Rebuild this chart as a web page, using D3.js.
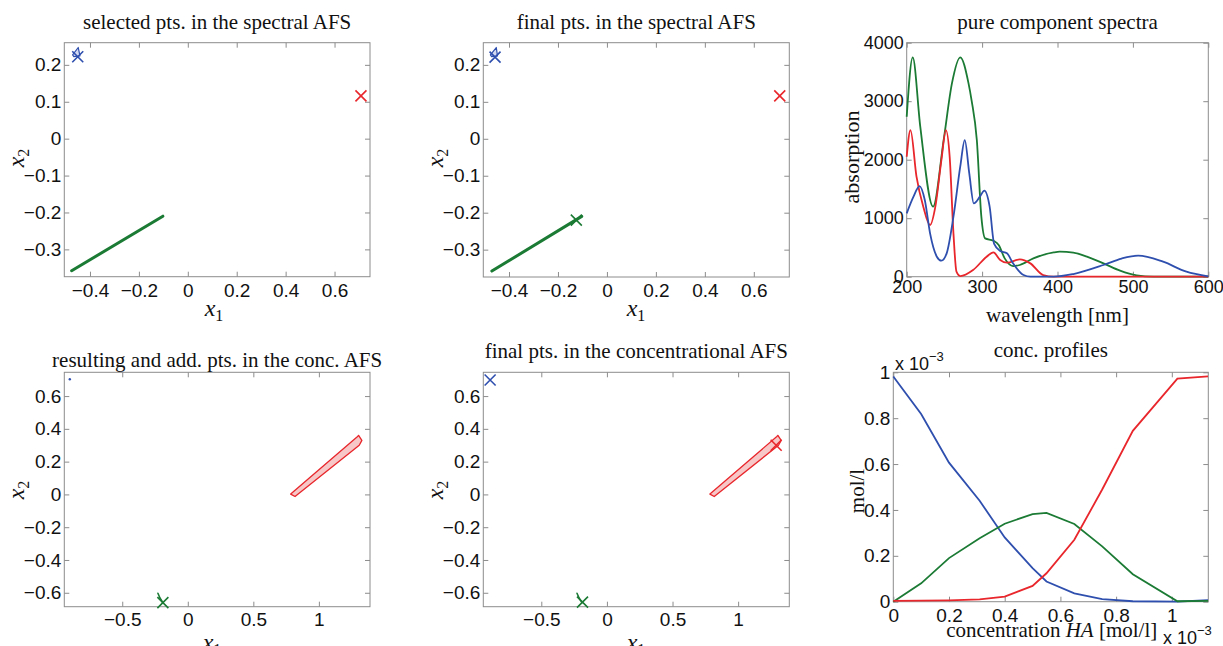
<!DOCTYPE html>
<html><head><meta charset="utf-8">
<script src="https://cdn.jsdelivr.net/npm/d3@7"></script>
<style>body{margin:0;background:#fff} svg{display:block;background:#fff}</style>
</head><body>
<svg id="c" width="1223" height="646"></svg>
<script>
// ---------------- DATA ----------------
// Panel 1: selected pts. in the spectral AFS
const p1GreenLineX = [-0.475, -0.102];
const p1GreenLineY = [-0.358, -0.210];
const p1BlueShapeX = [-0.471, -0.448, -0.441, -0.466];
const p1BlueShapeY = [0.227, 0.247, 0.224, 0.2225];
const p1MarkX = [-0.450, 0.708];
const p1MarkY = [0.222, 0.116];
const p1MarkC = ["blue", "red"];

// Panel 2: final pts. in the spectral AFS
const p2GreenLineX = [-0.470, -0.103];
const p2GreenLineY = [-0.358, -0.210];
const p2BlueShapeX = [-0.476, -0.452, -0.447, -0.471];
const p2BlueShapeY = [0.227, 0.247, 0.224, 0.2225];
const p2MarkX = [-0.457, 0.706, -0.125];
const p2MarkY = [0.221, 0.116, -0.220];
const p2MarkC = ["blue", "red", "green"];

// Panel 4: resulting and add. pts. in the conc. AFS
const concAfsRedPolyX = [0.785, 0.818, 1.308, 1.328, 1.303, 1.293];
const concAfsRedPolyY = [0.002, -0.013, 0.300, 0.330, 0.360, 0.352];
const concAfsGreenX = [-0.228, -0.212, -0.190];
const concAfsGreenY = [-0.603, -0.632, -0.660];
const p4BlueDot = [-0.90, 0.703];
const p4MarkX = [-0.190];
const p4MarkY = [-0.660];
const p4MarkC = ["green"];

// Panel 5: final pts. in the concentrational AFS
const p5MarkX = [-0.890, -0.186, 1.290];
const p5MarkY = [0.698, -0.657, 0.300];
const p5MarkC = ["blue", "green", "red"];

// Panel 3: pure component spectra
const specGreenNm  = [200,208,218,235,249,260,271,282,286,293,299,304,315,322,330,341,350,368,395,403,421,439,461,483,505,527,600];
const specGreenAbs = [2735,3750,2564,1197,2336,3305,3750,3305,3020,2336,1026,655,615,541,313,182,200,313,416,427,410,342,228,103,23,0,0];
const specRedNm  = [200,205,213,222,231,238,246,252,257,262,266,271,288,306,315,324,333,350,364,381,395,600];
const specRedAbs = [2051,2507,1709,1197,883,1197,1994,2507,2051,741,85,11,114,342,416,285,239,296,228,28,0,0];
const specBlueNm  = [200,209,217,224,231,240,246,253,262,271,277,283,289,297,303,310,316,324,333,341,355,364,395,421,461,485,507,540,571,600];
const specBlueAbs = [1083,1368,1550,1311,741,342,274,399,1026,1880,2336,1766,1254,1368,1470,1197,560,440,400,228,28,0,0,46,200,310,360,256,85,5];

// Panel 6: conc. profiles (x 10^-3)
const concHA    = [0, 0.10, 0.20, 0.31, 0.40, 0.50, 0.55, 0.65, 0.75, 0.86, 1.02, 1.13];
const concBlue  = [0.982, 0.818, 0.606, 0.440, 0.280, 0.146, 0.088, 0.036, 0.011, 0.002, 0.000, 0.007];
const concGreen = [0.000, 0.080, 0.190, 0.277, 0.340, 0.382, 0.387, 0.339, 0.241, 0.120, 0.002, 0.004];
const concRed   = [0.004, 0.005, 0.006, 0.010, 0.022, 0.069, 0.124, 0.270, 0.489, 0.745, 0.972, 0.982];

// Ticks
const afsSpecXTicks = [-0.4, -0.2, 0, 0.2, 0.4, 0.6];
const afsSpecYTicks = [-0.3, -0.2, -0.1, 0, 0.1, 0.2];
const afsConcXTicks = [-0.5, 0, 0.5, 1];
const afsConcYTicks = [-0.6, -0.4, -0.2, 0, 0.2, 0.4, 0.6];
const specXTicks = [200, 300, 400, 500, 600];
const specYTicks = [0, 1000, 2000, 3000, 4000];
const concXTicks = [0, 0.2, 0.4, 0.6, 0.8, 1];
const concYTicks = [0, 0.2, 0.4, 0.6, 0.8, 1];

// ---------------- DRAWING ----------------
const COL = {blue: "#2f4fae", red: "#e8262b", green: "#1b7a34"};
const AXC = "#8c8c8c";
const SANS = "'Liberation Sans', Arial, sans-serif";
const SERIF = "'Liberation Serif', 'Times New Roman', serif";
const svg = d3.select("#c");
const fmt = d3.format("~g");

function makePanel(o) {
  const fs = o.fs || 19;
  const x = d3.scaleLinear().domain(o.xd).range([o.l, o.r]);
  const y = d3.scaleLinear().domain(o.yd).range([o.b, o.t]);
  const g = svg.append("g");
  const styleAxis = sel => {
    sel.attr("color", AXC).attr("font-family", SANS).attr("font-size", fs);
    sel.select(".domain").remove();
    sel.selectAll("text").attr("fill", "#111");
  };
  g.append("g").attr("transform", `translate(0,${o.b})`)
    .call(d3.axisBottom(x).tickValues(o.xt).tickFormat(fmt).tickSizeInner(-5).tickSizeOuter(0).tickPadding(o.xpad))
    .call(styleAxis);
  g.append("g").attr("transform", `translate(${o.l},0)`)
    .call(d3.axisLeft(y).tickValues(o.yt).tickFormat(fmt).tickSizeInner(-5).tickSizeOuter(0).tickPadding(3))
    .call(styleAxis);
  g.append("g").attr("transform", `translate(0,${o.t})`)
    .call(d3.axisTop(x).tickValues(o.xt).tickFormat(() => "").tickSizeInner(-5).tickSizeOuter(0))
    .call(styleAxis);
  g.append("g").attr("transform", `translate(${o.r},0)`)
    .call(d3.axisRight(y).tickValues(o.yt).tickFormat(() => "").tickSizeInner(-5).tickSizeOuter(0))
    .call(styleAxis);
  g.append("rect").attr("x", o.l).attr("y", o.t).attr("width", o.r - o.l).attr("height", o.b - o.t)
    .attr("fill", "none").attr("stroke", AXC).attr("stroke-width", 1);
  g.append("text").attr("x", (o.l + o.r) / 2).attr("y", o.titleY).attr("text-anchor", "middle")
    .attr("font-family", SERIF).attr("font-size", 21).attr("fill", "#111").text(o.title);
  return {g, x, y};
}

function xLabelX1(g, cx, by) {
  const t = g.append("text").attr("x", cx).attr("y", by).attr("text-anchor", "middle")
    .attr("font-family", SERIF).attr("font-size", 24).attr("fill", "#111");
  t.append("tspan").attr("font-style", "italic").text("x");
  t.append("tspan").attr("font-size", 16).attr("dy", 5).text("1");
}
function yLabelX2(g, bx, cy) {
  const t = g.append("text").attr("transform", `translate(${bx},${cy}) rotate(-90)`).attr("text-anchor", "middle")
    .attr("font-family", SERIF).attr("font-size", 24).attr("fill", "#111");
  t.append("tspan").attr("font-style", "italic").text("x");
  t.append("tspan").attr("font-size", 16).attr("dy", 5).text("2");
}
function markers(P, xs, ys, cs, s = 5.5) {
  P.g.selectAll(null).data(xs).enter().append("path")
    .attr("d", (d, i) => {
      const cx = P.x(d), cy = P.y(ys[i]);
      return `M${cx - s},${cy - s}L${cx + s},${cy + s}M${cx - s},${cy + s}L${cx + s},${cy - s}`;
    })
    .attr("stroke", (d, i) => COL[cs[i]]).attr("stroke-width", 1.6).attr("fill", "none");
}
function polyline(P, xs, ys, color, w, closed, fill) {
  const pts = xs.map((d, i) => [P.x(d), P.y(ys[i])]);
  P.g.append("path").attr("d", d3.line()(pts) + (closed ? "Z" : ""))
    .attr("fill", fill || "none").attr("stroke", color).attr("stroke-width", w)
    .attr("stroke-linejoin", "round").attr("stroke-linecap", "round");
}

// Panel 1
const P1 = makePanel({l: 64.3, r: 370, t: 42.7, b: 276.7, xd: [-0.505, 0.745], yd: [-0.374, 0.26],
  xt: afsSpecXTicks, yt: afsSpecYTicks, xpad: 6.5, title: "selected pts. in the spectral AFS", titleY: 28.5});
polyline(P1, p1GreenLineX, p1GreenLineY, COL.green, 3, false);
polyline(P1, p1BlueShapeX, p1BlueShapeY, COL.blue, 1.2, true, "#d3d9f1");
markers(P1, p1MarkX, p1MarkY, p1MarkC);
xLabelX1(P1.g, 214, 316);
yLabelX2(P1.g, 24, 158);

// Panel 2
const P2 = makePanel({l: 483.3, r: 789.3, t: 42.7, b: 277, xd: [-0.505, 0.745], yd: [-0.374, 0.26],
  xt: afsSpecXTicks, yt: afsSpecYTicks, xpad: 6.5, title: "final pts. in the spectral AFS", titleY: 28.5});
polyline(P2, p2GreenLineX, p2GreenLineY, COL.green, 3, false);
polyline(P2, p2BlueShapeX, p2BlueShapeY, COL.blue, 1.2, true, "#d3d9f1");
markers(P2, p2MarkX, p2MarkY, p2MarkC);
xLabelX1(P2.g, 636, 316);
yLabelX2(P2.g, 443, 158);

// Panel 3
const P3 = makePanel({l: 906.7, r: 1208.3, t: 42.7, b: 276.7, xd: [200, 600], yd: [0, 4000], fs: 18,
  xt: specXTicks, yt: specYTicks, xpad: 3.5, title: "pure component spectra", titleY: 28.5});
const specLine = d3.line().curve(d3.curveMonotoneX);
[[specGreenNm, specGreenAbs, COL.green], [specRedNm, specRedAbs, COL.red], [specBlueNm, specBlueAbs, COL.blue]]
  .forEach(([xs, ys, c]) => {
    P3.g.append("path").attr("d", specLine(xs.map((d, i) => [P3.x(d), P3.y(ys[i])])))
      .attr("fill", "none").attr("stroke", c).attr("stroke-width", 1.8);
  });
P3.g.append("text").attr("x", 1057.5).attr("y", 322).attr("text-anchor", "middle")
  .attr("font-family", SERIF).attr("font-size", 21).attr("fill", "#111").text("wavelength [nm]");
P3.g.append("text").attr("transform", "translate(859,157) rotate(-90)").attr("text-anchor", "middle")
  .attr("font-family", SERIF).attr("font-size", 22).attr("fill", "#111").text("absorption");

// Panel 4
const P4 = makePanel({l: 64.3, r: 370, t: 372.3, b: 606.7, xd: [-0.942, 1.39], yd: [-0.685, 0.745],
  xt: afsConcXTicks, yt: afsConcYTicks, xpad: 6, title: "resulting and add. pts. in the conc. AFS", titleY: 366.5});
polyline(P4, concAfsRedPolyX, concAfsRedPolyY, COL.red, 1.3, true, "#f7c6c6");
polyline(P4, concAfsGreenX, concAfsGreenY, COL.green, 1.6, false);
P4.g.append("circle").attr("cx", P4.x(p4BlueDot[0])).attr("cy", P4.y(p4BlueDot[1])).attr("r", 1.2).attr("fill", COL.blue);
markers(P4, p4MarkX, p4MarkY, p4MarkC);
xLabelX1(P4.g, 212, 650);
yLabelX2(P4.g, 24, 490);

// Panel 5
const P5 = makePanel({l: 483.3, r: 789.3, t: 372.3, b: 606.7, xd: [-0.942, 1.39], yd: [-0.685, 0.745],
  xt: afsConcXTicks, yt: afsConcYTicks, xpad: 6, title: "final pts. in the concentrational AFS", titleY: 357.5});
polyline(P5, concAfsRedPolyX, concAfsRedPolyY, COL.red, 1.3, true, "#f7c6c6");
polyline(P5, concAfsGreenX, concAfsGreenY, COL.green, 1.6, false);
markers(P5, p5MarkX, p5MarkY, p5MarkC);
xLabelX1(P5.g, 636, 650);
yLabelX2(P5.g, 443, 490);

// Panel 6
const P6 = makePanel({l: 893.3, r: 1208.3, t: 372.3, b: 601.7, xd: [0, 1.131], yd: [0, 1],
  xt: concXTicks, yt: concYTicks, xpad: 6.5, title: "conc. profiles", titleY: 356.5});
[[concBlue, COL.blue], [concGreen, COL.green], [concRed, COL.red]].forEach(([ys, c]) => {
  P6.g.append("path").attr("d", d3.line()(concHA.map((d, i) => [P6.x(d), P6.y(ys[i])])))
    .attr("fill", "none").attr("stroke", c).attr("stroke-width", 1.8);
});
const cl = P6.g.append("text").attr("x", 1051.7).attr("y", 637).attr("text-anchor", "middle")
  .attr("font-family", SERIF).attr("font-size", 21).attr("fill", "#111");
cl.append("tspan").text("concentration ");
cl.append("tspan").attr("font-style", "italic").text("HA");
cl.append("tspan").text(" [mol/l]");
P6.g.append("text").attr("transform", "translate(864,491) rotate(-90)").attr("text-anchor", "middle")
  .attr("font-family", SERIF).attr("font-size", 21).attr("fill", "#111").text("mol/l");
function expLabel(g, x0, by) {
  const t = g.append("text").attr("x", x0).attr("y", by).attr("font-family", SANS).attr("font-size", 18).attr("fill", "#111");
  t.append("tspan").text("x 10");
  t.append("tspan").attr("font-size", 13).attr("dy", -9).text("−3");
}
expLabel(P6.g, 895, 370);
expLabel(P6.g, 1163, 644);
</script>
</body></html>
